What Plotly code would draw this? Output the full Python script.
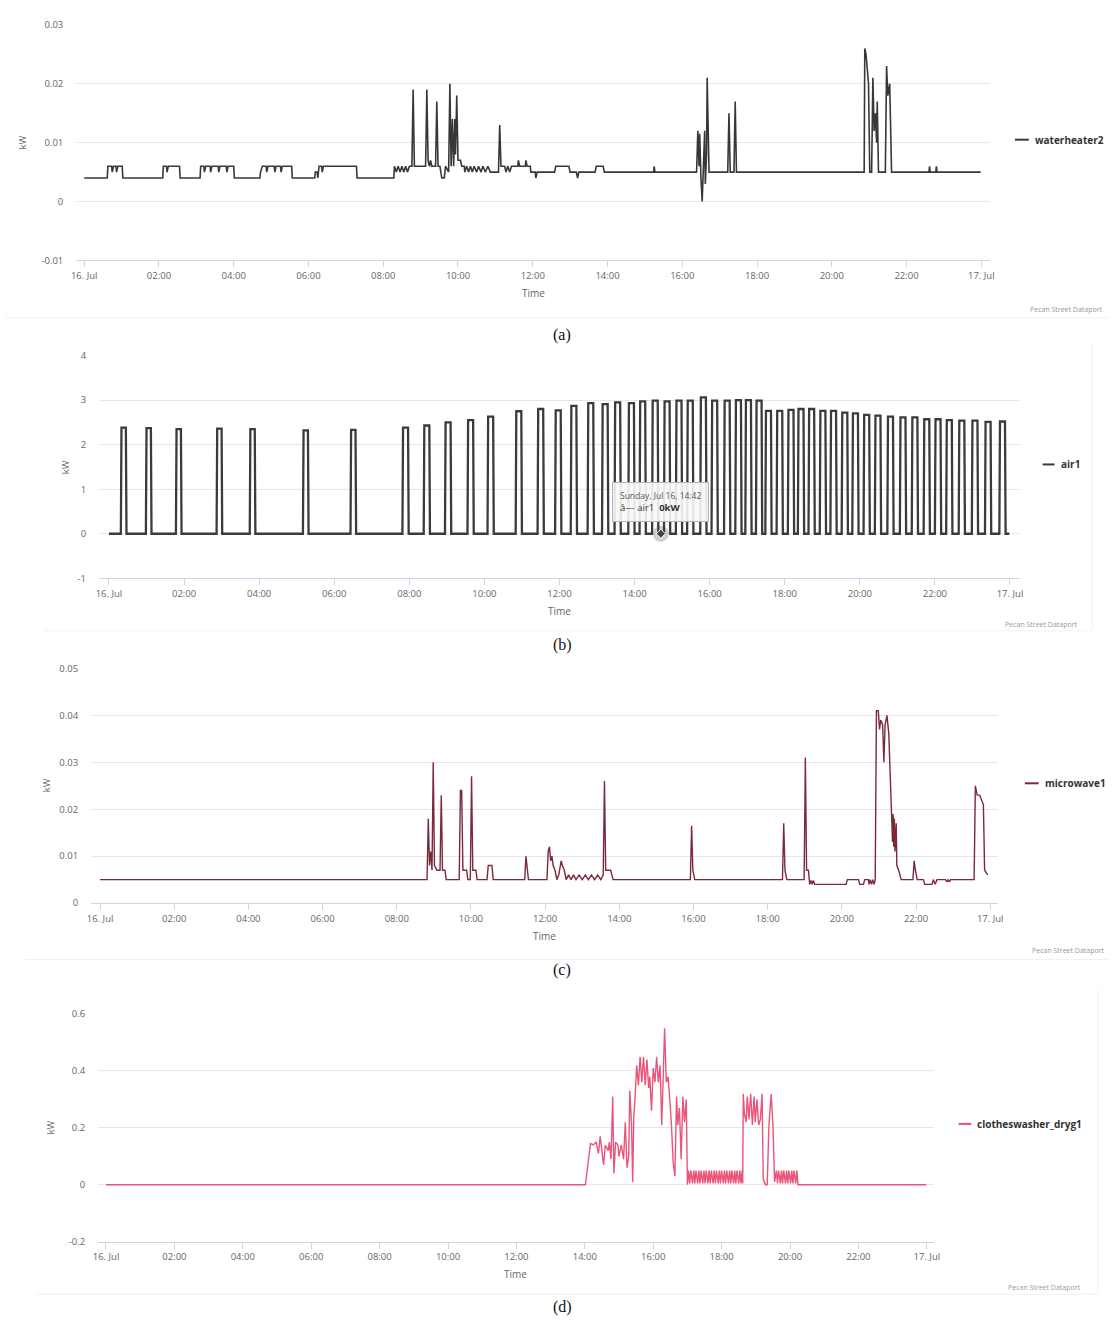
import pandas as pd
import plotly.graph_objects as go

# ---------------------------------------------------------------------------
# Data: one day of 1-minute appliance readings (kW), 16 Jul -> 17 Jul
# ---------------------------------------------------------------------------
DAY = pd.Timestamp("2017-07-16")

X_TICK_HOURS = [0, 2, 4, 6, 8, 10, 12, 14, 16, 18, 20, 22, 24]
X_TICK_TEXT = ["16. Jul", "02:00", "04:00", "06:00", "08:00", "10:00", "12:00",
               "14:00", "16:00", "18:00", "20:00", "22:00", "17. Jul"]

# (a) waterheater2 : (time, kW)
WATERHEATER2 = [
    ("00:00", 0.004), ("00:37", 0.004), ("00:38", 0.006), ("00:44", 0.006), ("00:45", 0.005),
    ("00:47", 0.006), ("00:51", 0.006), ("00:52", 0.005), ("00:54", 0.006), ("01:01", 0.006),
    ("01:02", 0.004), ("02:06", 0.004), ("02:07", 0.006), ("02:12", 0.006), ("02:13", 0.005),
    ("02:15", 0.006), ("02:33", 0.006), ("02:34", 0.004), ("03:06", 0.004), ("03:07", 0.006),
    ("03:12", 0.006), ("03:13", 0.005), ("03:15", 0.006), ("03:22", 0.006), ("03:23", 0.005),
    ("03:25", 0.006), ("03:35", 0.006), ("03:36", 0.005), ("03:38", 0.006), ("03:48", 0.006),
    ("03:49", 0.005), ("03:51", 0.006), ("04:00", 0.006), ("04:01", 0.004), ("04:42", 0.004),
    ("04:43", 0.005), ("04:46", 0.006), ("04:52", 0.006), ("04:53", 0.005), ("04:55", 0.006),
    ("05:05", 0.006), ("05:06", 0.005), ("05:08", 0.006), ("05:15", 0.006), ("05:16", 0.005),
    ("05:18", 0.006), ("05:33", 0.006), ("05:34", 0.004), ("06:10", 0.004), ("06:11", 0.005),
    ("06:14", 0.005), ("06:15", 0.004), ("06:17", 0.006), ("06:21", 0.006), ("06:22", 0.005),
    ("06:24", 0.006), ("07:17", 0.006), ("07:18", 0.004), ("08:17", 0.004), ("08:18", 0.006),
    ("08:21", 0.005), ("08:24", 0.006), ("08:27", 0.005), ("08:30", 0.006), ("08:33", 0.005),
    ("08:36", 0.006), ("08:39", 0.005), ("08:42", 0.006), ("08:46", 0.006), ("08:48", 0.019),
    ("08:50", 0.006), ("09:08", 0.006), ("09:10", 0.019), ("09:12", 0.007), ("09:14", 0.006),
    ("09:16", 0.007), ("09:18", 0.006), ("09:24", 0.006), ("09:26", 0.017), ("09:28", 0.006),
    ("09:31", 0.006), ("09:34", 0.004), ("09:38", 0.004), ("09:40", 0.006), ("09:45", 0.005),
    ("09:47", 0.020), ("09:49", 0.006), ("09:51", 0.014), ("09:53", 0.006), ("09:55", 0.014),
    ("09:56", 0.008), ("09:58", 0.018), ("10:00", 0.007), ("10:04", 0.007), ("10:06", 0.006),
    ("10:10", 0.006), ("10:11", 0.005), ("10:14", 0.006), ("10:17", 0.005), ("10:20", 0.006),
    ("10:23", 0.005), ("10:26", 0.006), ("10:30", 0.005), ("10:33", 0.006), ("10:37", 0.005),
    ("10:40", 0.006), ("10:44", 0.005), ("10:48", 0.006), ("10:52", 0.005), ("11:05", 0.005),
    ("11:07", 0.013), ("11:09", 0.006), ("11:15", 0.006), ("11:17", 0.005), ("11:20", 0.006),
    ("11:23", 0.005), ("11:26", 0.006), ("11:36", 0.006), ("11:37", 0.007), ("11:39", 0.006),
    ("11:48", 0.006), ("11:49", 0.007), ("11:51", 0.006), ("11:56", 0.006), ("11:57", 0.005),
    ("12:04", 0.005), ("12:05", 0.004), ("12:07", 0.005), ("12:35", 0.005), ("12:37", 0.006),
    ("12:58", 0.006), ("13:00", 0.005), ("13:10", 0.005), ("13:12", 0.004), ("13:14", 0.005),
    ("13:40", 0.005), ("13:42", 0.006), ("13:53", 0.006), ("13:55", 0.005), ("15:14", 0.005),
    ("15:15", 0.006), ("15:16", 0.005), ("16:23", 0.005), ("16:25", 0.012), ("16:27", 0.006),
    ("16:28", 0.0115), ("16:30", 0.004), ("16:32", 0.0), ("16:34", 0.006), ("16:36", 0.012),
    ("16:37", 0.003), ("16:39", 0.008), ("16:40", 0.021), ("16:43", 0.005), ("17:13", 0.005),
    ("17:15", 0.015), ("17:17", 0.005), ("17:23", 0.005), ("17:25", 0.017), ("17:27", 0.005),
    ("20:52", 0.005), ("20:53", 0.026), ("20:55", 0.025), ("20:57", 0.022), ("20:59", 0.020),
    ("21:01", 0.005), ("21:04", 0.005), ("21:06", 0.021), ("21:08", 0.012), ("21:10", 0.015),
    ("21:12", 0.010), ("21:13", 0.017), ("21:15", 0.005), ("21:26", 0.005), ("21:28", 0.023),
    ("21:30", 0.018), ("21:33", 0.020), ("21:36", 0.005), ("22:36", 0.005), ("22:37", 0.006),
    ("22:38", 0.005), ("22:47", 0.005), ("22:48", 0.006), ("22:49", 0.005), ("23:59", 0.005),
]

# (b) air1 : compressor on/off cycles and the level reached in each cycle
AIR1_ON = ["00:19", "00:59", "01:47", "02:52", "03:45", "05:10", "06:26", "07:49",
           "08:23", "08:57", "09:33", "10:05", "10:50", "11:25", "11:53", "12:18",
           "12:45", "13:08", "13:28", "13:50", "14:08", "14:28", "14:47", "15:06",
           "15:24", "15:45", "16:03", "16:23", "16:41", "16:57", "17:14", "17:29",
           "17:47", "18:05", "18:21", "18:38", "18:56", "19:13", "19:31", "19:48",
           "20:06", "20:24", "20:44", "21:04", "21:23", "21:42", "22:00", "22:18",
           "22:38", "22:59", "23:20", "23:43"]
AIR1_OFF = ["00:28", "01:08", "01:56", "03:01", "03:54", "05:19", "06:35", "07:59",
            "08:33", "09:07", "09:43", "10:15", "11:00", "11:35", "12:03", "12:28",
            "12:55", "13:18", "13:38", "14:00", "14:18", "14:38", "14:57", "15:16",
            "15:34", "15:55", "16:13", "16:33", "16:51", "17:07", "17:24", "17:39",
            "17:57", "18:15", "18:31", "18:48", "19:06", "19:23", "19:41", "19:58",
            "20:16", "20:34", "20:54", "21:14", "21:33", "21:52", "22:10", "22:28",
            "22:48", "23:09", "23:30", "23:53"]
AIR1_PEAK_KW = [2.38, 2.37, 2.35, 2.36, 2.35, 2.32, 2.33, 2.38, 2.43, 2.50, 2.55, 2.63,
                2.75, 2.80, 2.77, 2.87, 2.93, 2.91, 2.95, 2.93, 2.97, 2.99, 2.97, 2.99,
                2.99, 3.06, 2.99, 2.99, 3.00, 3.00, 2.99, 2.76, 2.76, 2.78, 2.80, 2.80,
                2.76, 2.76, 2.72, 2.70, 2.67, 2.65, 2.63, 2.61, 2.61, 2.57, 2.57, 2.55,
                2.54, 2.54, 2.51, 2.52]
AIR1_START_END = ("00:00", "23:59")

# hovered air1 reading shown in the tooltip
TOOLTIP_TIME = "14:42"
TOOLTIP_KW = 0

# (c) microwave1 : (time, kW)
MICROWAVE1 = [
    ("00:00", 0.005), ("08:49", 0.005), ("08:51", 0.018), ("08:53", 0.008), ("08:55", 0.011),
    ("08:57", 0.007), ("08:59", 0.030), ("09:01", 0.008), ("09:05", 0.007), ("09:10", 0.007),
    ("09:12", 0.023), ("09:14", 0.007), ("09:18", 0.007), ("09:20", 0.005), ("09:41", 0.005),
    ("09:43", 0.024), ("09:45", 0.024), ("09:47", 0.007), ("09:53", 0.007), ("09:55", 0.005),
    ("09:59", 0.005), ("10:01", 0.027), ("10:03", 0.007), ("10:08", 0.007), ("10:10", 0.005),
    ("10:26", 0.005), ("10:28", 0.008), ("10:34", 0.008), ("10:36", 0.005), ("11:27", 0.005),
    ("11:29", 0.010), ("11:31", 0.008), ("11:33", 0.005), ("12:03", 0.005), ("12:05", 0.011),
    ("12:07", 0.012), ("12:09", 0.009), ("12:11", 0.010), ("12:13", 0.008), ("12:16", 0.007),
    ("12:19", 0.005), ("12:22", 0.006), ("12:26", 0.009), ("12:28", 0.008), ("12:31", 0.007),
    ("12:34", 0.005), ("12:38", 0.006), ("12:42", 0.005), ("12:46", 0.006), ("12:50", 0.005),
    ("12:55", 0.006), ("13:00", 0.005), ("13:05", 0.006), ("13:10", 0.005), ("13:15", 0.006),
    ("13:20", 0.005), ("13:25", 0.006), ("13:30", 0.005), ("13:34", 0.006), ("13:36", 0.026),
    ("13:38", 0.007), ("13:46", 0.007), ("13:50", 0.005), ("15:55", 0.005), ("15:57", 0.0165),
    ("15:59", 0.007), ("16:02", 0.005), ("18:24", 0.005), ("18:26", 0.017), ("18:28", 0.007),
    ("18:31", 0.005), ("18:59", 0.005), ("19:01", 0.031), ("19:03", 0.007), ("19:06", 0.007),
    ("19:08", 0.004), ("19:10", 0.0048), ("19:12", 0.004), ("19:14", 0.0048), ("19:16", 0.004),
    ("20:07", 0.004), ("20:09", 0.005), ("20:27", 0.005), ("20:29", 0.004), ("20:35", 0.004),
    ("20:37", 0.005), ("20:43", 0.005), ("20:44", 0.004), ("20:46", 0.005), ("20:48", 0.004),
    ("20:50", 0.005), ("20:52", 0.004), ("20:54", 0.005), ("20:56", 0.041), ("20:59", 0.041),
    ("21:01", 0.037), ("21:03", 0.039), ("21:06", 0.038), ("21:08", 0.030), ("21:10", 0.038),
    ("21:13", 0.040), ("21:16", 0.036), ("21:19", 0.026), ("21:21", 0.020), ("21:22", 0.013),
    ("21:23", 0.019), ("21:24", 0.012), ("21:25", 0.018), ("21:26", 0.011), ("21:28", 0.017),
    ("21:29", 0.008), ("21:32", 0.007), ("21:36", 0.005), ("21:55", 0.005), ("21:57", 0.009),
    ("21:59", 0.007), ("22:02", 0.005), ("22:12", 0.005), ("22:14", 0.004), ("22:26", 0.004),
    ("22:28", 0.005), ("22:31", 0.004), ("22:34", 0.005), ("22:48", 0.005), ("22:50", 0.0045),
    ("22:52", 0.005), ("22:54", 0.0045), ("22:56", 0.005), ("23:34", 0.005), ("23:36", 0.025),
    ("23:39", 0.023), ("23:43", 0.023), ("23:46", 0.022), ("23:49", 0.021), ("23:51", 0.007),
    ("23:56", 0.006),
]

# (d) clotheswasher_dryg1 : (time, kW)
CLOTHESWASHER_DRYG1 = [
    ("00:00", 0.0), ("14:01", 0.0), ("14:10", 0.145), ("14:15", 0.14), ("14:20", 0.15),
    ("14:24", 0.11), ("14:27", 0.17), ("14:30", 0.12), ("14:33", 0.07), ("14:36", 0.14),
    ("14:41", 0.12), ("14:43", 0.15), ("14:46", 0.09), ("14:49", 0.31), ("14:51", 0.04),
    ("14:54", 0.15), ("14:58", 0.14), ("15:00", 0.10), ("15:04", 0.14), ("15:08", 0.09),
    ("15:11", 0.22), ("15:14", 0.06), ("15:17", 0.10), ("15:19", 0.33), ("15:22", 0.21),
    ("15:24", 0.01), ("15:26", 0.24), ("15:28", 0.30), ("15:31", 0.42), ("15:34", 0.35),
    ("15:37", 0.45), ("15:40", 0.36), ("15:43", 0.45), ("15:46", 0.35), ("15:49", 0.44),
    ("15:52", 0.34), ("15:54", 0.38), ("15:57", 0.26), ("16:00", 0.41), ("16:03", 0.36),
    ("16:06", 0.45), ("16:09", 0.36), ("16:12", 0.42), ("16:15", 0.21), ("16:18", 0.39),
    ("16:20", 0.55), ("16:23", 0.36), ("16:26", 0.38), ("16:29", 0.30), ("16:32", 0.21),
    ("16:35", 0.08), ("16:38", 0.03), ("16:41", 0.31), ("16:43", 0.21), ("16:46", 0.27),
    ("16:49", 0.09), ("16:52", 0.31), ("16:55", 0.22), ("16:58", 0.30), ("17:00", 0.0),
    ("17:02", 0.05), ("17:04", 0.005), ("17:06", 0.05), ("17:09", 0.005), ("17:11", 0.05),
    ("17:13", 0.005), ("17:15", 0.05), ("17:18", 0.005), ("17:20", 0.05), ("17:22", 0.005),
    ("17:24", 0.05), ("17:27", 0.005), ("17:29", 0.05), ("17:31", 0.005), ("17:33", 0.05),
    ("17:36", 0.005), ("17:38", 0.05), ("17:40", 0.005), ("17:42", 0.05), ("17:45", 0.005),
    ("17:47", 0.05), ("17:49", 0.005), ("17:51", 0.05), ("17:54", 0.005), ("17:56", 0.05),
    ("17:58", 0.005), ("18:00", 0.05), ("18:03", 0.005), ("18:05", 0.05), ("18:07", 0.005),
    ("18:09", 0.05), ("18:12", 0.005), ("18:14", 0.05), ("18:16", 0.005), ("18:18", 0.05),
    ("18:21", 0.005), ("18:23", 0.05), ("18:25", 0.005), ("18:27", 0.05), ("18:30", 0.005),
    ("18:32", 0.05), ("18:34", 0.005), ("18:36", 0.05), ("18:37", 0.005), ("18:38", 0.32),
    ("18:40", 0.25), ("18:43", 0.22), ("18:45", 0.31), ("18:48", 0.23), ("18:51", 0.32),
    ("18:54", 0.21), ("18:57", 0.31), ("18:59", 0.22), ("19:02", 0.30), ("19:05", 0.21),
    ("19:08", 0.23), ("19:11", 0.32), ("19:13", 0.02), ("19:17", 0.0), ("19:20", 0.0),
    ("19:23", 0.21), ("19:27", 0.32), ("19:30", 0.21), ("19:33", 0.01), ("19:36", 0.05),
    ("19:38", 0.005), ("19:40", 0.05), ("19:43", 0.005), ("19:45", 0.05), ("19:47", 0.005),
    ("19:49", 0.05), ("19:52", 0.005), ("19:54", 0.05), ("19:56", 0.005), ("19:58", 0.05),
    ("20:01", 0.005), ("20:03", 0.05), ("20:05", 0.005), ("20:07", 0.05), ("20:10", 0.005),
    ("20:12", 0.05), ("20:14", 0.0), ("23:59", 0.0),
]

# y-axis ticks per panel
WH_Y_TICKS = [-0.01, 0, 0.01, 0.02, 0.03]
WH_Y_TEXT = ["-0.01", "0", "0.01", "0.02", "0.03"]
AIR_Y_TICKS = [-1, 0, 1, 2, 3, 4]
AIR_Y_TEXT = ["-1", "0", "1", "2", "3", "4"]
MW_Y_TICKS = [0, 0.01, 0.02, 0.03, 0.04, 0.05]
MW_Y_TEXT = ["0", "0.01", "0.02", "0.03", "0.04", "0.05"]
CW_Y_TICKS = [-0.2, 0, 0.2, 0.4, 0.6]
CW_Y_TEXT = ["-0.2", "0", "0.2", "0.4", "0.6"]

# ---------------------------------------------------------------------------
# Helpers
# ---------------------------------------------------------------------------
W, H = 1115, 1322
FONT = "Open Sans, DejaVu Sans, sans-serif"
GRID = "#e6e6e6"
AXIS = "#ccd6eb"
LABEL = "#666666"


def at(hm):
    h, m = hm.split(":")
    return DAY + pd.Timedelta(hours=int(h), minutes=int(m))


def unzip(pairs):
    return [at(t) for t, _ in pairs], [v for _, v in pairs]


def air1_series():
    t = [at(AIR1_START_END[0])]
    v = [0.0]
    one = pd.Timedelta(minutes=1)
    for on, off, pk in zip(AIR1_ON, AIR1_OFF, AIR1_PEAK_KW):
        t += [at(on), at(on) + one, at(off) - one, at(off)]
        v += [0.0, pk, pk, 0.0]
    t.append(at(AIR1_START_END[1]))
    v.append(0.0)
    return t, v


# plot-area placement of each panel (pixels on the page)
PANELS = [
    dict(key="a", name="waterheater2", color="#38383b", width=1.6,
         left=72, right=995, tick0=80, tick24=986, top=18, bottom=256,
         yr=[-0.01, 0.03], yt=WH_Y_TICKS, ytt=WH_Y_TEXT,
         kw_x=18, leg=(1020, 1034, 134), credit=(1111, 305), caption=331),
    dict(key="b", name="air1", color="#3b3b3f", width=2.3,
         left=95, right=1025, tick0=105, tick24=1015, top=352, bottom=577,
         yr=[-1, 4], yt=AIR_Y_TICKS, ytt=AIR_Y_TEXT,
         kw_x=62, leg=(1048, 1060, 462), credit=(1086, 624), caption=644),
    dict(key="c", name="microwave1", color="#7a2a3a", width=1.4,
         left=87, right=1003, tick0=96, tick24=995, top=668, bottom=905,
         yr=[0, 0.05], yt=MW_Y_TICKS, ytt=MW_Y_TEXT,
         kw_x=42, leg=(1030, 1044, 784), credit=(1113, 953), caption=973),
    dict(key="d", name="clotheswasher_dryg1", color="#ea5479", width=1.4,
         left=94, right=938, tick0=102, tick24=931, top=1017, bottom=1247,
         yr=[-0.2, 0.6], yt=CW_Y_TICKS, ytt=CW_Y_TEXT,
         kw_x=46, leg=(963, 976, 1128), credit=(1089, 1293), caption=1313),
]

SERIES = {
    "a": unzip(WATERHEATER2),
    "b": air1_series(),
    "c": unzip(MICROWAVE1),
    "d": unzip(CLOTHESWASHER_DRYG1),
}

fig = go.Figure()
layout = dict(
    width=W, height=H, margin=dict(l=0, r=0, t=0, b=0),
    paper_bgcolor="white", plot_bgcolor="white", showlegend=False,
    font=dict(family=FONT, color=LABEL),
)
annotations = []
shapes = []

# faint edges of the captured chart areas
for x0, y0, x1, y1 in [(0, 314, 1115, 314), (1098, 340, 1098, 630), (40, 630, 1098, 630),
                       (20, 962, 1115, 962), (1104, 992, 1104, 1300), (30, 1300, 1104, 1300)]:
    shapes.append(dict(type="line", xref="paper", yref="paper",
                       x0=x0 / W, x1=x1 / W, y0=1 - y0 / H, y1=1 - y1 / H,
                       line=dict(color="#f1f1f1", width=1), layer="below"))

for i, p in enumerate(PANELS, start=1):
    xa = "xaxis" if i == 1 else f"xaxis{i}"
    ya = "yaxis" if i == 1 else f"yaxis{i}"
    xr = "x" if i == 1 else f"x{i}"
    yr = "y" if i == 1 else f"y{i}"

    px_per_hour = (p["tick24"] - p["tick0"]) / 24.0
    start = DAY - pd.Timedelta(hours=(p["tick0"] - p["left"]) / px_per_hour)
    end = DAY + pd.Timedelta(hours=24 + (p["right"] - p["tick24"]) / px_per_hour)

    layout[xa] = dict(
        type="date", domain=[p["left"] / W, p["right"] / W], anchor=yr,
        range=[start, end], fixedrange=True,
        tickvals=[DAY + pd.Timedelta(hours=h) for h in X_TICK_HOURS],
        ticktext=X_TICK_TEXT, ticks="outside", ticklen=6, tickcolor=AXIS,
        showline=True, linecolor=AXIS, linewidth=1, showgrid=False, zeroline=False,
        tickfont=dict(family=FONT, size=9.5, color=LABEL),
    )
    layout[ya] = dict(
        domain=[1 - p["bottom"] / H, 1 - p["top"] / H], anchor=xr,
        range=p["yr"], fixedrange=True, tickvals=p["yt"], ticktext=p["ytt"],
        showgrid=True, gridcolor=GRID, gridwidth=1, zeroline=False, showline=False,
        ticks="", ticklabelstandoff=12,
        tickfont=dict(family=FONT, size=9.5, color=LABEL),
    )

    t, v = SERIES[p["key"]]
    fig.add_trace(go.Scatter(x=t, y=v, mode="lines", name=p["name"],
                             line=dict(color=p["color"], width=p["width"]),
                             xaxis=xr, yaxis=yr))

    mid_y = 1 - (p["top"] + p["bottom"]) / 2 / H
    # axis titles
    annotations.append(dict(text="Time", xref=f"{xr} domain", x=0.5, yref="paper",
                            y=1 - (p["bottom"] + 33) / H, xanchor="center",
                            yanchor="middle", showarrow=False,
                            font=dict(family=FONT, size=10, color=LABEL)))
    annotations.append(dict(text="kW", xref="paper", x=p["kw_x"] / W, yref="paper",
                            y=mid_y, xanchor="center", yanchor="middle",
                            textangle=-90, showarrow=False,
                            font=dict(family=FONT, size=9.5, color=LABEL)))
    # legend entry
    lx0, lx1, ly = p["leg"]
    shapes.append(dict(type="line", xref="paper", yref="paper",
                       x0=lx0 / W, x1=lx1 / W, y0=1 - ly / H, y1=1 - ly / H,
                       line=dict(color=p["color"], width=2)))
    annotations.append(dict(text=f"<b>{p['name']}</b>", xref="paper", yref="paper",
                            x=(lx1 + 4) / W, y=1 - ly / H, xanchor="left",
                            yanchor="middle", showarrow=False,
                            font=dict(family=FONT, size=10, color="#333333")))
    # credit line
    cx, cy = p["credit"]
    annotations.append(dict(text="Pecan Street Dataport", xref="paper", yref="paper",
                            x=cx / W, y=1 - cy / H, xanchor="right", yanchor="middle",
                            showarrow=False,
                            font=dict(family=FONT, size=7, color="#999999")))
    # figure caption
    annotations.append(dict(text=f"({p['key']})", xref="paper", yref="paper",
                            x=563 / W, y=1 - p["caption"] / H, xanchor="center",
                            yanchor="middle", showarrow=False,
                            font=dict(family="Liberation Serif, serif", size=16,
                                      color="#111111")))

# hovered air1 point with its halo and tooltip
fig.add_trace(go.Scatter(x=[at(TOOLTIP_TIME)], y=[TOOLTIP_KW], mode="markers",
                         marker=dict(size=16, color="rgba(67,67,72,0.25)"),
                         xaxis="x2", yaxis="y2", hoverinfo="skip"))
fig.add_trace(go.Scatter(x=[at(TOOLTIP_TIME)], y=[TOOLTIP_KW], mode="markers",
                         marker=dict(size=7, symbol="diamond", color="#434348",
                                     line=dict(color="white", width=1)),
                         xaxis="x2", yaxis="y2", hoverinfo="skip"))
annotations.append(dict(
    xref="x2", yref="y2", x=at(TOOLTIP_TIME), y=TOOLTIP_KW,
    xanchor="center", yanchor="bottom", yshift=12, showarrow=False, align="left",
    text=(f"<span style='font-size:8.5px;color:#555'>Sunday, Jul 16, {TOOLTIP_TIME}</span><br>"
          f"<span style='font-size:9.5px;color:#333'>â— air1  <b>{TOOLTIP_KW}kW</b></span>"),
    bgcolor="rgba(248,248,248,0.9)", bordercolor="#b5b5b5", borderwidth=1, borderpad=7,
    font=dict(family=FONT, size=9.5, color="#333333"),
))

layout["annotations"] = annotations
layout["shapes"] = shapes
fig.update_layout(**layout)
fig.write_html("out.html")
